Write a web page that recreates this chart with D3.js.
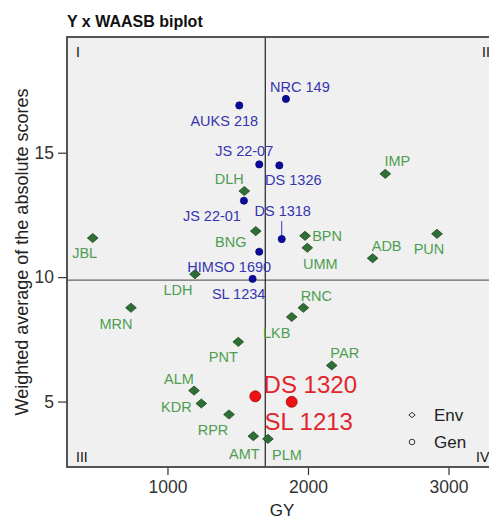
<!DOCTYPE html>
<html>
<head>
<meta charset="utf-8">
<script src="https://cdn.jsdelivr.net/npm/d3@7"></script>
<style>
  body { margin: 0; background: #fff; }
  svg { display: block; font-family: "Liberation Sans", Arial, sans-serif; }
</style>
</head>
<body>
<div id="chart"></div>
<script>
// Y x WAASB biplot

const genNames = ["NRC 149", "AUKS 218", "JS 22-07", "DS 1326", "JS 22-01", "DS 1318",
                  "HIMSO 1690", "SL 1234", "DS 1320", "SL 1213"];
const genGY    = [1843, 1511, 1653, 1796, 1544, 1813, 1653, 1606, 1625, 1884];
const genWAASB = [17.16, 16.90, 14.53, 14.49, 13.07, 11.53, 11.02, 9.93, 5.21, 4.99];
const highlighted = ["DS 1320", "SL 1213"];

const envNames = ["IMP", "ADB", "PUN", "BPN", "UMM", "RNC", "LKB", "PAR", "DLH", "BNG",
                  "JBL", "LDH", "MRN", "PNT", "ALM", "KDR", "RPR", "AMT", "PLM"];
const envGY    = [2550, 2460, 2918, 1979, 1995, 1967, 1884, 2169, 1547, 1628,
                  468, 1196, 740, 1504, 1189, 1241, 1438, 1611, 1715];
const envWAASB = [14.15, 10.76, 11.74, 11.66, 11.18, 8.77, 8.40, 6.45, 13.46, 11.85,
                  11.57, 10.12, 8.77, 7.40, 5.44, 4.92, 4.48, 3.61, 3.50];

const meanGY = 1696;
const meanWAASB = 9.88;

const xTicks = [1000, 2000, 3000];
const yTicks = [5, 10, 15];
const quadrants = ["I", "II", "III", "IV"];

// where the repelled labels ended up, relative to their point (px)
const labelOffset = {
  "NRC 149": [14, -12], "AUKS 218": [-15, 15], "JS 22-07": [-15, -13], "DS 1326": [14, 15],
  "JS 22-01": [-32, 15], "DS 1318": [1, -28], "HIMSO 1690": [-30, 15], "SL 1234": [-14, 15],
  "DS 1320": [55, -12], "SL 1213": [17, 20],
  "IMP": [12, -13], "ADB": [14, -12], "PUN": [-8, 15], "BPN": [22, 0], "UMM": [13, 16],
  "RNC": [13, -12], "LKB": [-15, 16], "PAR": [13, -13], "DLH": [-15, -12], "BNG": [-25, 11],
  "JBL": [-8, 15], "LDH": [-17, 16], "MRN": [-15, 16], "PNT": [-15, 15], "ALM": [-15, -12],
  "KDR": [-25, 3], "RPR": [-16, 15], "AMT": [-9, 18], "PLM": [19, 16]
};

const width = 489, height = 519;
const panel = { left: 67, right: 497, top: 37, bottom: 467 };

const svg = d3.select('#chart').append('svg')
    .attr('width', width)
    .attr('height', height);

const x = d3.scaleLinear().domain([285, 3345]).range([panel.left, panel.right]);
const y = d3.scaleLinear().domain([2.37, 19.65]).range([panel.bottom, panel.top]);

// slightly flattened diamond, like R's pch 23
const flatDiamond = {
    draw(context, size) {
        const h = Math.sqrt(size) / 2;
        context.moveTo(0, -h * 0.85);
        context.lineTo(h, 0);
        context.lineTo(0, h * 0.85);
        context.lineTo(-h, 0);
        context.closePath();
    }
};

// panel background
svg.append('rect')
    .attr('x', panel.left).attr('y', panel.top)
    .attr('width', panel.right - panel.left).attr('height', panel.bottom - panel.top)
    .attr('fill', '#f0f0f0');

// mean lines
svg.append('line')
    .attr('x1', panel.left).attr('x2', panel.right)
    .attr('y1', y(meanWAASB)).attr('y2', y(meanWAASB))
    .attr('stroke', '#666').attr('stroke-width', 1.3);
svg.append('line')
    .attr('x1', x(meanGY)).attr('x2', x(meanGY))
    .attr('y1', panel.top).attr('y2', panel.bottom)
    .attr('stroke', '#222').attr('stroke-width', 1.2);

// axes
const xAxis = svg.append('g')
    .attr('transform', `translate(0,${panel.bottom})`)
    .call(d3.axisBottom(x).tickValues(xTicks).tickSize(8).tickPadding(6).tickFormat(d3.format('d')));
const yAxis = svg.append('g')
    .attr('transform', `translate(${panel.left},0)`)
    .call(d3.axisLeft(y).tickValues(yTicks).tickSize(9).tickPadding(4));
[xAxis, yAxis].forEach(a => {
    a.select('.domain').remove();
    a.selectAll('.tick line').attr('stroke', '#333').attr('stroke-width', 1.2);
    a.selectAll('.tick text').attr('fill', '#333').attr('font-size', 17.5)
        .attr('font-family', '"Liberation Sans", Arial, sans-serif');
});

// panel border
svg.append('rect')
    .attr('x', panel.left).attr('y', panel.top)
    .attr('width', panel.right - panel.left).attr('height', panel.bottom - panel.top)
    .attr('fill', 'none').attr('stroke', '#444').attr('stroke-width', 1.8);

// quadrant labels
const quadPos = [[76, 57], [482, 57], [76, 462], [476, 462]];
svg.selectAll('.quad').data(quadrants).enter().append('text')
    .attr('class', 'quad')
    .attr('x', (d, i) => quadPos[i][0]).attr('y', (d, i) => quadPos[i][1])
    .attr('font-size', 14).attr('fill', '#111')
    .text(d => d);

// titles
svg.append('text').attr('x', 67).attr('y', 27)
    .attr('font-size', 16).attr('font-weight', 'bold').attr('fill', '#111')
    .text('Y x WAASB biplot');
svg.append('text').attr('x', 282).attr('y', 516)
    .attr('text-anchor', 'middle').attr('font-size', 17).attr('fill', '#222')
    .text('GY');
svg.append('text')
    .attr('transform', 'translate(28,252) rotate(-90)')
    .attr('text-anchor', 'middle').attr('font-size', 18).attr('fill', '#222')
    .text('Weighted average of the absolute scores');

const gens = genNames.map((n, i) => ({ name: n, gy: genGY[i], w: genWAASB[i], hi: highlighted.includes(n) }));
const envs = envNames.map((n, i) => ({ name: n, gy: envGY[i], w: envWAASB[i] }));

// repel segment for DS 1318
gens.filter(d => d.name === 'DS 1318').forEach(d => {
    svg.append('line')
        .attr('x1', x(d.gy)).attr('y1', y(d.w) - 3)
        .attr('x2', x(d.gy)).attr('y2', y(d.w) + labelOffset[d.name][1] + 10)
        .attr('stroke', '#3a3ab0').attr('stroke-width', 1);
});

// environment diamonds
const diamond = d3.symbol().type(flatDiamond).size(115);
svg.selectAll('.env').data(envs).enter().append('path')
    .attr('class', 'env')
    .attr('transform', d => `translate(${x(d.gy)},${y(d.w)})`)
    .attr('d', diamond())
    .attr('fill', '#2f6e34').attr('stroke', '#1d4a20').attr('stroke-width', 0.8);

// genotype points
svg.selectAll('.gen').data(gens).enter().append('circle')
    .attr('class', 'gen')
    .attr('cx', d => x(d.gy)).attr('cy', d => y(d.w))
    .attr('r', d => d.hi ? 5.5 : 3.6)
    .attr('fill', d => d.hi ? '#ee1111' : '#0a0aa0')
    .attr('stroke', d => d.hi ? '#8a0000' : '#000060').attr('stroke-width', 0.7);

// labels
svg.selectAll('.envlab').data(envs).enter().append('text')
    .attr('class', 'envlab')
    .attr('x', d => x(d.gy) + labelOffset[d.name][0])
    .attr('y', d => y(d.w) + labelOffset[d.name][1])
    .attr('dy', '0.35em').attr('text-anchor', 'middle')
    .attr('font-size', 14.5).attr('fill', '#4f9e50')
    .text(d => d.name);

svg.selectAll('.genlab').data(gens).enter().append('text')
    .attr('class', 'genlab')
    .attr('x', d => x(d.gy) + labelOffset[d.name][0])
    .attr('y', d => y(d.w) + labelOffset[d.name][1])
    .attr('dy', '0.35em').attr('text-anchor', 'middle')
    .attr('font-size', d => d.hi ? 24 : 14.5)
    .attr('fill', d => d.hi ? '#e0262b' : '#3535b0')
    .text(d => d.name);

// legend
const legend = svg.append('g');
legend.append('path')
    .attr('d', d3.symbol().type(flatDiamond).size(40)())
    .attr('transform', 'translate(412,415)')
    .attr('fill', 'none').attr('stroke', '#333').attr('stroke-width', 1);
legend.append('circle').attr('cx', 412).attr('cy', 442).attr('r', 2.8)
    .attr('fill', 'none').attr('stroke', '#333').attr('stroke-width', 1);
legend.append('text').attr('x', 434).attr('y', 415).attr('dy', '0.35em')
    .attr('font-size', 17).attr('fill', '#222').text('Env');
legend.append('text').attr('x', 434).attr('y', 442).attr('dy', '0.35em')
    .attr('font-size', 17).attr('fill', '#222').text('Gen');
</script>
</body>
</html>
